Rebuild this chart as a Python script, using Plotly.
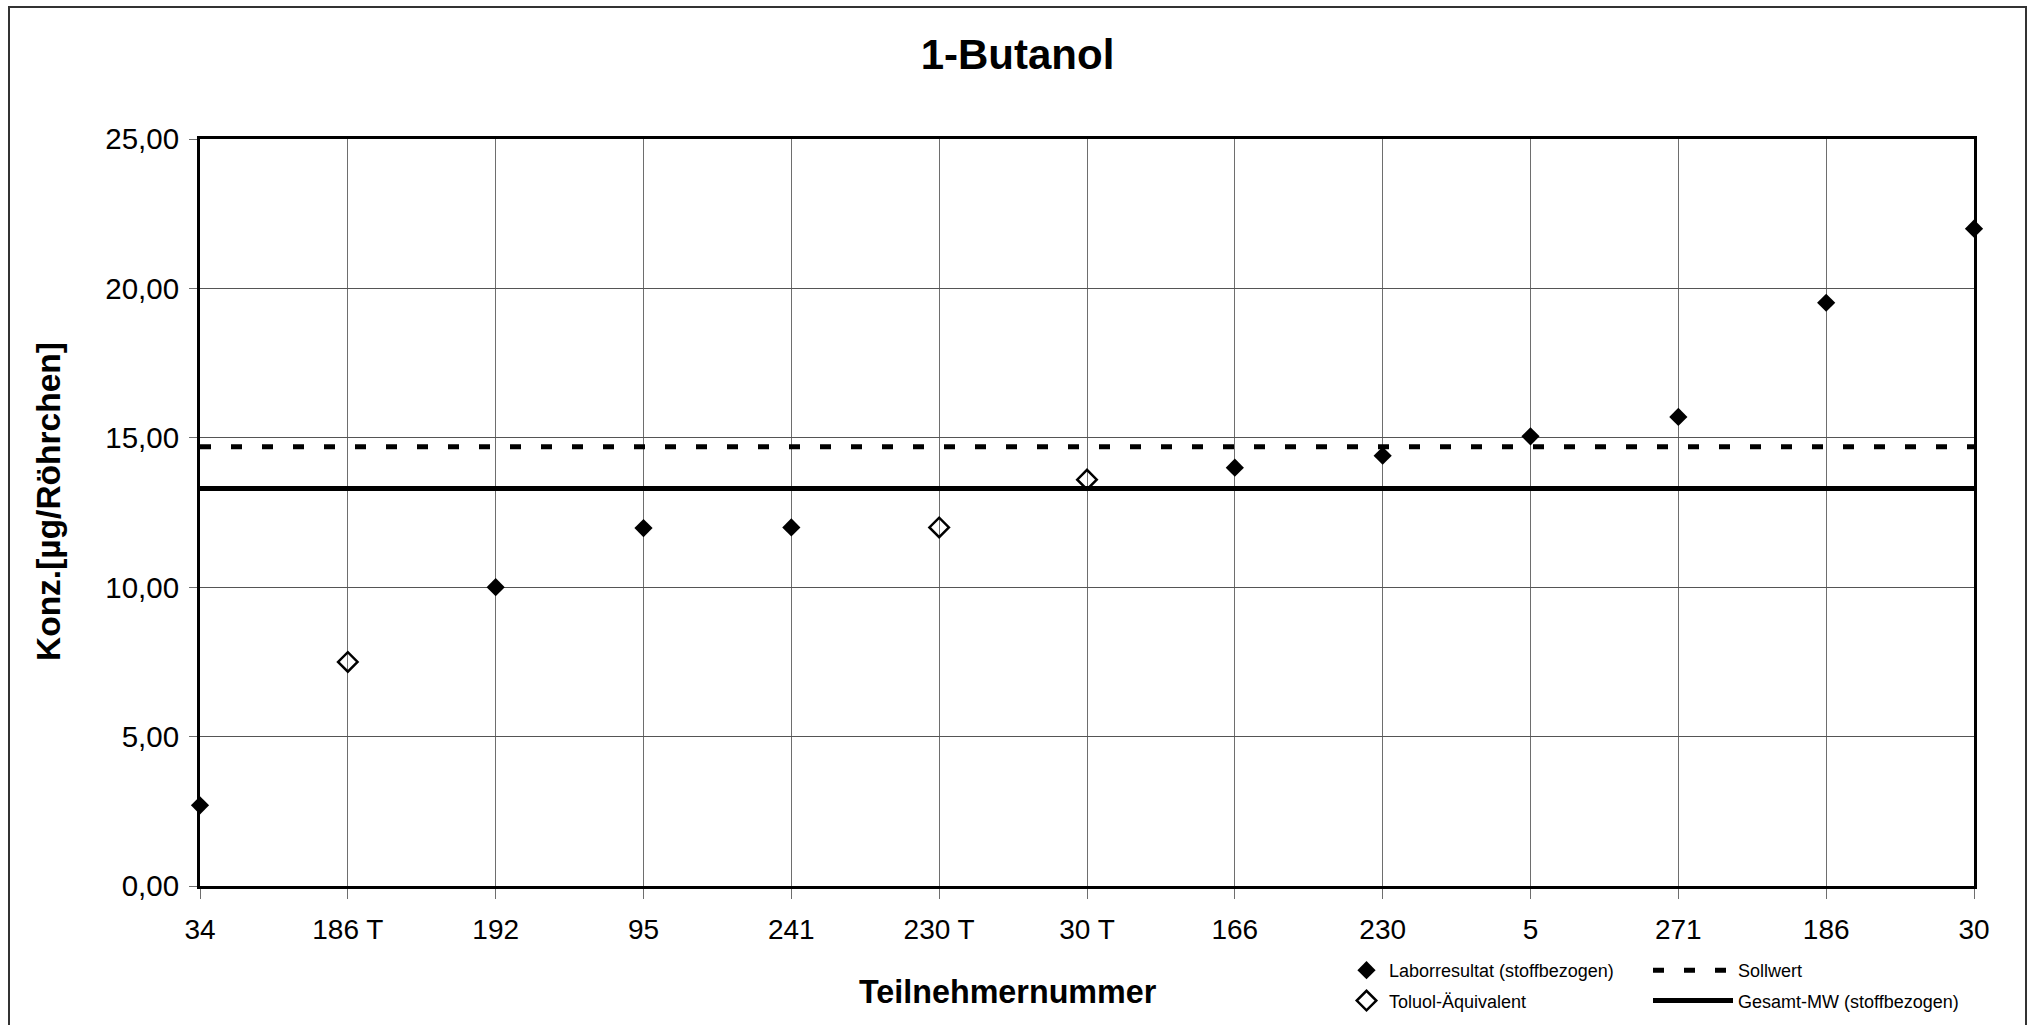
import plotly.graph_objects as go

categories = ["34", "186 T", "192", "95", "241", "230 T", "30 T", "166", "230", "5", "271", "186", "30"]
labor_cats = ["34", "192", "95", "241", "166", "230", "5", "271", "186", "30"]
labor_vals = [2.7, 10.0, 11.98, 12.0, 14.0, 14.4, 15.05, 15.7, 19.52, 22.0]
toluol_cats = ["186 T", "230 T", "30 T"]
toluol_vals = [7.5, 12.0, 13.6]
sollwert = 14.7
gesamt_mw = 13.3
y_ticks = [0, 5, 10, 15, 20, 25]

FONT = "Arial, Liberation Sans, sans-serif"
W, H = 2035, 1025
L, R, T, B = 200, 61, 139, 139
PW, PH = W - L - R, H - T - B

def px_x(p):
    return (p - L) / PW

def px_y(p):
    return (H - B - p) / PH

fig = go.Figure()

fig.add_trace(go.Scatter(
    x=[categories[0], categories[-1]], y=[sollwert, sollwert], mode="lines",
    name="Sollwert", line=dict(color="black", width=5, dash="11px,20px"),
    legend="legend2", legendgroup="s", cliponaxis=False, hoverinfo="skip"))
fig.add_trace(go.Scatter(
    x=[categories[0], categories[-1]], y=[gesamt_mw, gesamt_mw], mode="lines",
    name="Gesamt-MW (stoffbezogen)", line=dict(color="black", width=5),
    legend="legend2", legendgroup="g", cliponaxis=False, hoverinfo="skip"))
fig.add_trace(go.Scatter(
    x=labor_cats, y=labor_vals, mode="markers", name="Laborresultat (stoffbezogen)",
    marker=dict(symbol="diamond", size=14, color="black"),
    legend="legend", legendgroup="l", cliponaxis=False))
fig.add_trace(go.Scatter(
    x=toluol_cats, y=toluol_vals, mode="markers", name="Toluol-Äquivalent",
    marker=dict(symbol="diamond-open", size=15, color="black", line=dict(width=2.5)),
    legend="legend", legendgroup="t", cliponaxis=False))

fig.update_layout(
    width=W, height=H,
    margin=dict(l=L, r=R, t=T, b=B, pad=0, autoexpand=False),
    paper_bgcolor="white", plot_bgcolor="white",
    font=dict(family=FONT, color="black", size=28),
    separators=",.",
    title=dict(text="<b>1-Butanol</b>", font=dict(size=42, family=FONT, color="black"),
               x=0.5, xref="container", xanchor="center",
               y=1 - 54 / H, yref="container", yanchor="middle"),
    xaxis=dict(type="category", categoryorder="array", categoryarray=categories,
               range=[0, len(categories) - 1], automargin=False,
               showgrid=True, gridcolor="#6e6e6e", gridwidth=1,
               showline=True, linecolor="black", linewidth=3, mirror=True,
               ticks="outside", ticklen=10, tickcolor="#6e6e6e", tickwidth=1,
               ticklabelstandoff=6,
               tickfont=dict(size=28, family=FONT, color="black"), zeroline=False),
    yaxis=dict(range=[0, 25], tickvals=y_ticks, tickformat=".2f", automargin=False,
               showgrid=True, gridcolor="#555555", gridwidth=1,
               showline=True, linecolor="black", linewidth=3, mirror=True,
               ticks="outside", ticklen=8, tickcolor="#6e6e6e", tickwidth=1,
               ticklabelstandoff=4,
               tickfont=dict(size=29.5, family=FONT, color="black"), zeroline=False),
    legend=dict(x=px_x(1344), y=px_y(952), xanchor="left", yanchor="top",
                orientation="v", font=dict(size=18, family=FONT, color="black"),
                bgcolor="rgba(0,0,0,0)", borderwidth=0, traceorder="grouped",
                tracegroupgap=4, itemwidth=35),
    legend2=dict(x=px_x(1648), y=px_y(952), xanchor="left", yanchor="top",
                 orientation="v", font=dict(size=18, family=FONT, color="black"),
                 bgcolor="rgba(0,0,0,0)", borderwidth=0, itemwidth=80,
                 traceorder="grouped", tracegroupgap=4),
    showlegend=True,
)

fig.add_annotation(text="<b>Konz.[µg/Röhrchen]</b>", xref="paper", yref="paper",
                   x=px_x(48), y=px_y(502), xanchor="center", yanchor="middle",
                   textangle=-90, showarrow=False,
                   font=dict(size=33.5, family=FONT, color="black"))
fig.add_annotation(text="<b>Teilnehmernummer</b>", xref="paper", yref="paper",
                   x=px_x(1008), y=px_y(992), xanchor="center", yanchor="middle",
                   showarrow=False, font=dict(size=32.3, family=FONT, color="black"))

# outer chart frame
fig.add_shape(type="rect", xref="paper", yref="paper",
              x0=px_x(9), x1=px_x(2026), y0=px_y(1060), y1=px_y(7),
              line=dict(color="#333333", width=2), fillcolor="rgba(0,0,0,0)", layer="below")

fig.write_html("out.html", config={"displayModeBar": False},
               post_script="document.body.style.margin='0';document.body.style.overflow='hidden';")
